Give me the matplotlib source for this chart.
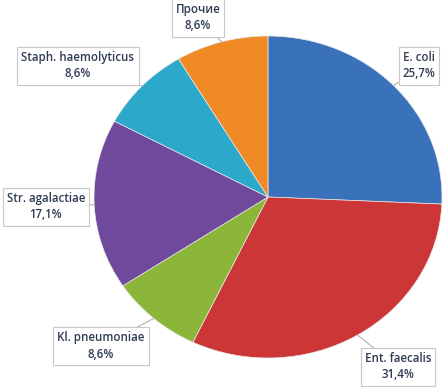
import matplotlib
matplotlib.use("Agg")
import matplotlib.pyplot as plt
import numpy as np

categories = ["E. coli", "Ent. faecalis", "Kl. pneumoniae", "Str. agalactiae",
              "Staph. haemolyticus", "Прочие"]
values = [25.7, 31.4, 8.6, 17.1, 8.6, 8.6]
value_labels = ["25,7%", "31,4%", "8,6%", "17,1%", "8,6%", "8,6%"]
colors = ["#3a71bb", "#cc3636", "#8bb63a", "#6f4a9c", "#2ba8ca", "#f08a27"]

# label box centres in pixel coords (from top-left)
label_pos = [(419, 66), (398, 367), (101, 346), (46, 207), (78, 66), (198, 18)]

W, H = 444, 387
cx, cy, rx, ry = 268, 197, 174, 161

fig = plt.figure(figsize=(W / 100, H / 100), dpi=100)
ax = fig.add_axes([0, 0, 1, 1])
wedges, _ = ax.pie(values, colors=colors, startangle=90, counterclock=False,
                   wedgeprops=dict(linewidth=0.5, edgecolor="#e8e8e8"))
ax.set_aspect("auto")
ax.set_xlim(-cx / rx, (W - cx) / rx)
ax.set_ylim(-(H - cy) / ry, cy / ry)
ax.axis("off")

def to_data(px, py):
    return (px - cx) / rx, (cy - py) / ry

text_color = "#2e3b52"
for w, name, vl, (px, py) in zip(wedges, categories, value_labels, label_pos):
    mid = np.deg2rad((w.theta1 + w.theta2) / 2)
    ex, ey = np.cos(mid), np.sin(mid)
    tx, ty = to_data(px, py)
    ax.annotate(f"{name}\n{vl}", xy=(ex, ey), xytext=(tx, ty),
                ha="center", va="center", fontsize=8.3, color=text_color,
                fontweight="semibold",
                family=["Open Sans", "DejaVu Sans"], linespacing=1.3,
                bbox=dict(boxstyle="square,pad=0.35", fc="white", ec="#c8c8c8", lw=0.8),
                arrowprops=dict(arrowstyle="-", color="#b0b0b0", lw=0.8,
                                shrinkA=0, shrinkB=0))

fig.savefig("out.png", dpi=100)
